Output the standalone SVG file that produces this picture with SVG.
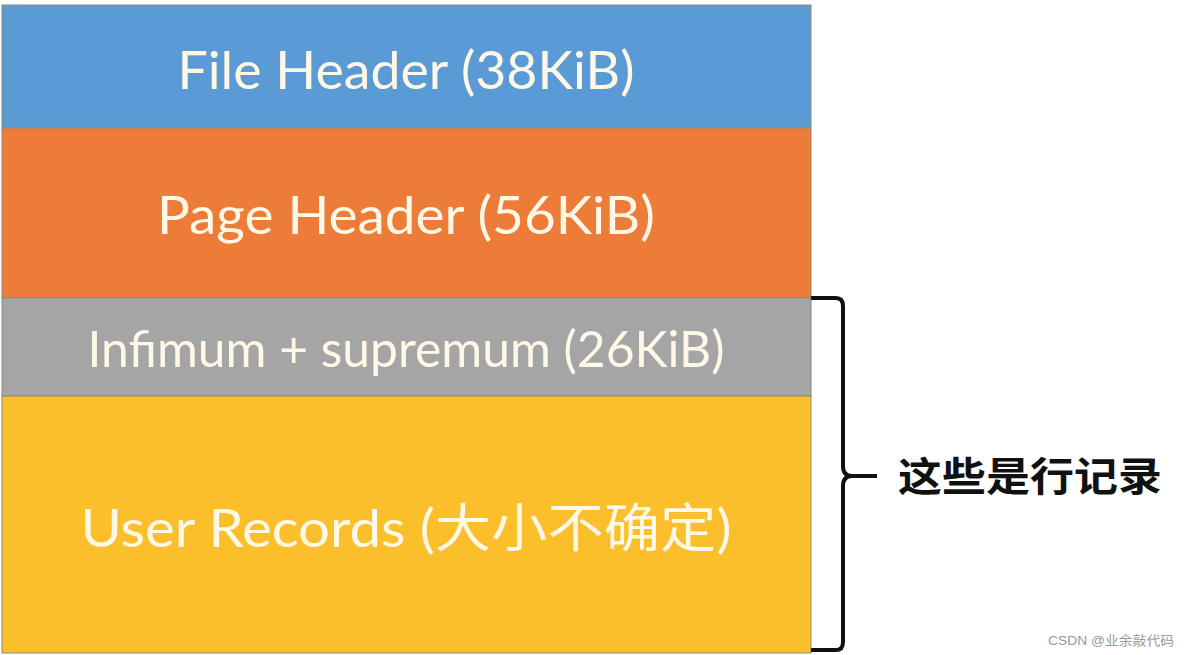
<svg xmlns="http://www.w3.org/2000/svg" width="1184" height="655" viewBox="0 0 1184 655">
<style>
.lbl{font-family:"Lato","Noto Sans","Noto Sans CJK SC",sans-serif;fill:#FFF8E6;text-anchor:middle}
.blk{stroke:#8a8a7a;stroke-width:1}
</style>
<rect width="1184" height="655" fill="#ffffff"/>
<g id="file-header">
<rect class="blk" x="2" y="5" width="809" height="123" fill="#5B9BD5"/>
<text class="lbl" x="406" y="89" font-size="53" textLength="457" lengthAdjust="spacingAndGlyphs">File Header (38KiB)</text>
</g>
<g id="page-header">
<rect class="blk" x="2" y="128" width="809" height="170" fill="#EC7C37"/>
<text class="lbl" x="406" y="234" font-size="52" textLength="498" lengthAdjust="spacingAndGlyphs">Page Header (56KiB)</text>
</g>
<g id="infimum-supremum">
<rect class="blk" x="2" y="298" width="809" height="98" fill="#A5A5A5"/>
<text class="lbl" x="406" y="367" font-size="50" textLength="637" lengthAdjust="spacingAndGlyphs">Infimum + supremum (26KiB)</text>
</g>
<g id="user-records">
<rect class="blk" x="2" y="396" width="809" height="257" fill="#FCBF2C"/>
<text class="lbl" x="406" y="547" font-size="52" textLength="651" lengthAdjust="spacingAndGlyphs">User Records (大小不确定)</text>
</g>
<g id="connectors">
<path d="M811 298 H836 Q843 298 843 306 V466 Q843 476 852 476 H877 M852 476 Q843 476 843 486 V642 Q843 650 836 650 H811" fill="none" stroke="#111" stroke-width="4"/>
</g>
<g id="label">
<text x="898" y="491" font-family="'Noto Sans CJK SC',sans-serif" font-weight="bold" font-size="40" fill="#111" textLength="264" lengthAdjust="spacingAndGlyphs">这些是行记录</text>
</g>
<text x="1048" y="645" font-family="'Liberation Sans','Noto Sans CJK SC',sans-serif" font-size="13" fill="#999" textLength="126" lengthAdjust="spacingAndGlyphs">CSDN @业余敲代码</text>
</svg>
